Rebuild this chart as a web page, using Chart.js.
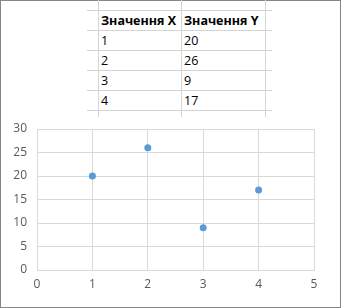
<!DOCTYPE html>
<html>
<head>
<meta charset="utf-8">
<script src="https://cdn.jsdelivr.net/npm/chart.js@4"></script>
<style>
  body { margin: 0; background: #fff; }
  #frame { position: absolute; left: 0; top: 0; width: 341px; height: 308px; box-sizing: border-box; border: 1px solid #868686; }
  #sheet { position: absolute; left: 87px; top: 0; width: 185px; height: 117px; overflow: hidden; }
  .hl { position: absolute; left: 0; width: 185px; height: 1px; background: #d4d4d4; }
  .vl { position: absolute; top: 0; width: 1px; height: 117px; background: #d4d4d4; }
  .cell { position: absolute; font-family: "Open Sans", sans-serif; font-size: 12.5px; line-height: 20px; color: #000; white-space: nowrap; }
  .head { font-weight: bold; }
  #box { position: absolute; left: 0; top: 0; width: 341px; height: 308px; }
</style>
</head>
<body>
<div id="frame"></div>
<div id="sheet"></div>
<div id="box"><canvas id="chart" width="341" height="308"></canvas></div>
<script>
let headers = ['Значення X', 'Значення Y'];
let xValues = [1, 2, 3, 4];
let yValues = [20, 26, 9, 17];
let yTicks = [0, 5, 10, 15, 20, 25, 30];
let xTicks = [0, 1, 2, 3, 4, 5];

// the worksheet part above the chart
let sheet = document.getElementById('sheet');
let colLines = [11, 94, 178];   // relative to sheet left
let rowLines = [10, 30, 50, 70, 90, 110];
colLines.forEach(x => {
    let d = document.createElement('div');
    d.className = 'vl';
    d.style.left = x + 'px';
    sheet.appendChild(d);
});
rowLines.forEach(y => {
    let d = document.createElement('div');
    d.className = 'hl';
    d.style.top = y + 'px';
    sheet.appendChild(d);
});
function addCell(text, col, row, bold) {
    let s = document.createElement('span');
    s.className = 'cell' + (bold ? ' head' : '');
    s.textContent = text;
    s.style.left = (colLines[col] + 3) + 'px';
    s.style.top = (rowLines[row] + 1) + 'px';
    sheet.appendChild(s);
}
headers.forEach((h, i) => addCell(h, i, 0, true));
xValues.forEach((v, i) => {
    addCell(String(v), 0, i + 1, false);
    addCell(String(yValues[i]), 1, i + 1, false);
});

// scatter chart
const gridColor = '#d9d9d9';
const tickFont = { family: 'Open Sans', size: 12 };
const ctx = document.getElementById('chart').getContext('2d');
let chart = new Chart(ctx, {
    type: 'scatter',
    data: {
        datasets: [{
            data: xValues.map((x, i) => ({ x: x, y: yValues[i] })),
            backgroundColor: '#5B9BD5',
            borderColor: '#5B9BD5',
            borderWidth: 0,
            pointRadius: 3.5,
            pointHoverRadius: 3.5
        }]
    },
    options: {
        responsive: false,
        animation: false,
        layout: { padding: { left: 0, top: 129, right: 27, bottom: 0 } },
        plugins: { legend: { display: false }, tooltip: { enabled: false } },
        scales: {
            x: {
                type: 'linear',
                min: xTicks[0],
                max: xTicks[xTicks.length - 1],
                afterBuildTicks: s => { s.ticks = xTicks.map(v => ({ value: v })); },
                afterFit: s => { s.height = 38; },
                ticks: { color: '#595959', font: tickFont, padding: 7 },
                grid: { color: gridColor, drawTicks: false },
                border: { color: gridColor }
            },
            y: {
                min: yTicks[0],
                max: yTicks[yTicks.length - 1],
                afterBuildTicks: s => { s.ticks = yTicks.map(v => ({ value: v })); },
                afterFit: s => { s.width = 37; },
                ticks: { color: '#595959', font: tickFont, padding: 10 },
                grid: { color: gridColor, drawTicks: false },
                border: { color: gridColor }
            }
        }
    }
});
</script>
</body>
</html>
